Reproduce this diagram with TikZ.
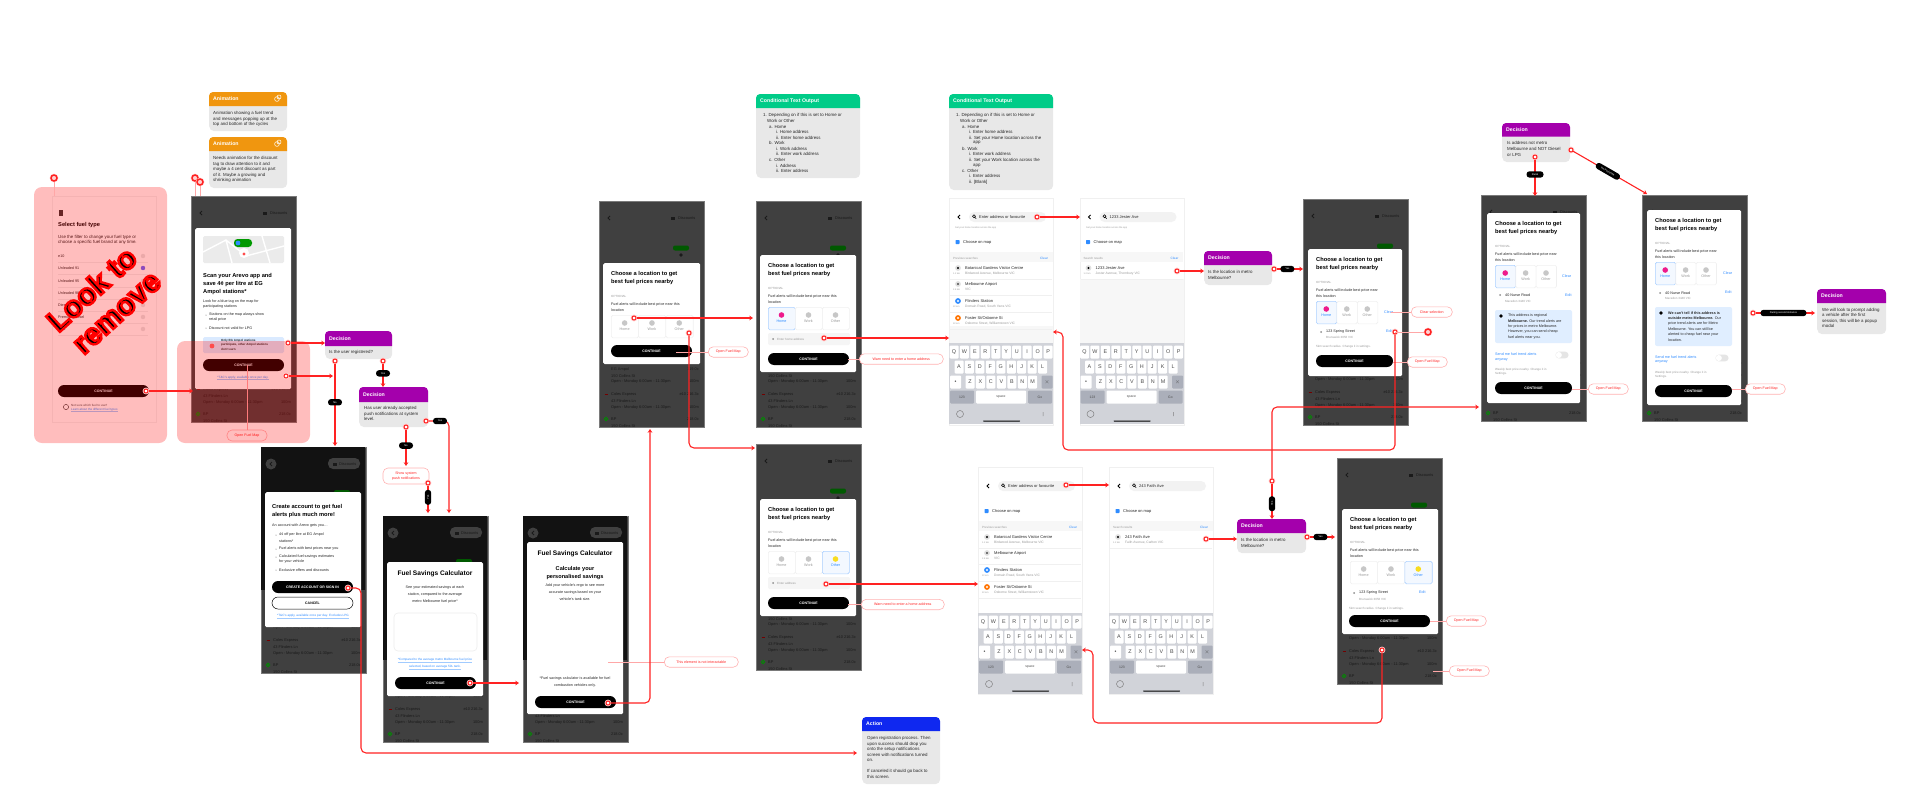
\documentclass[tikz,border=0pt]{standalone}
\usepackage{fontspec}
\setmainfont{Liberation Sans}
\newfontfamily\stampfont[UprightFont=* Bold,FakeBold=8]{Liberation Sans}
\usetikzlibrary{arrows.meta}
\newcommand{\thinul}[1]{\vtop{\hbox{#1}\kern.25pt{\color{tabblue!45}\hrule height .15pt}}}
\definecolor{linkred}{HTML}{FF2222}
\definecolor{notegrey}{HTML}{E8E8E8}
\definecolor{animorange}{HTML}{F0960F}
\definecolor{decpurple}{HTML}{A400AC}
\definecolor{condgreen}{HTML}{00CC88}
\definecolor{actblue}{HTML}{0F28F0}
\definecolor{phonegrey}{HTML}{404040}
\definecolor{bgink}{HTML}{1A1A1A}
\definecolor{tabblue}{HTML}{2F8CFF}
\definecolor{selpink}{HTML}{EE1A8C}
\definecolor{selyellow}{HTML}{F8DC20}
\definecolor{kbgrey}{HTML}{D1D3D9}
\definecolor{keygrey}{HTML}{ABAFBA}
\tikzset{
	txt/.style={inner sep=0pt,anchor=west,align=left,text=black!85,font=\fontsize{3.7}{5.6}\selectfont},
	ctxt/.style={txt,anchor=center,align=center},
	notetxt/.style={txt,font=\fontsize{4.4}{5.6}\selectfont},
	greytxt/.style={txt,text=black!40,font=\fontsize{3}{4}\selectfont},
	bluetxt/.style={txt,text=tabblue,font=\fontsize{3.7}{5}\selectfont},
	linktxt/.style={ctxt,text=tabblue,font=\fontsize{3.1}{5}\selectfont},
	tagtxt/.style={txt,font=\fontsize{3}{4}\bfseries\selectfont},
	bgtxt/.style={txt,text=bgink,font=\fontsize{3.9}{5}\selectfont},
	titletxt/.style={txt,text=black,font=\fontsize{5.7}{8}\bfseries\selectfont},
	bigtitle/.style={ctxt,text=black,font=\fontsize{6.6}{8}\bfseries\selectfont},
	subtitle/.style={ctxt,text=black,font=\fontsize{5.6}{8}\bfseries\selectfont},
	phonebg/.style={draw=black!52,fill=phonegrey,line width=.5pt,inner sep=0pt,minimum width=104.5pt,minimum height=226pt,anchor=north west},
	modal/.style={fill=white,rounded corners=1.5pt,inner sep=0pt,anchor=north west},
	card/.style={draw=black!6,fill=white,line width=.6pt,inner sep=0pt,minimum width=104pt,minimum height=227pt,anchor=north west},
	contbtn/.style={fill=black,text=white,rounded corners=6pt,inner sep=0pt,minimum height=12pt,font=\fontsize{3.5}{4}\bfseries\selectfont},
	keycap/.style={fill=white,rounded corners=1pt,inner sep=0pt,minimum width=9pt,minimum height=13pt,text=black!70,font=\fontsize{5.4}{6}\selectfont},
	notecard/.style={fill=notegrey,rounded corners=5pt,inner sep=0pt,anchor=north west},
	notehead/.style={inner sep=0pt,anchor=west,text=white,font=\fontsize{5.2}{6}\bfseries\selectfont},
	link/.style={draw=linkred,line width=1.1pt,rounded corners=5pt,-{Stealth[length=3.8pt,width=4.8pt]}},
	ring/.style={circle,draw=linkred,fill=white,line width=1pt,minimum size=4pt,inner sep=0pt,preaction={draw=linkred!22,line width=2.6pt}},
	bigring/.style={ring,line width=1.5pt,minimum size=6pt,fill=linkred!20},
	pill/.style={fill=black,text=white,rounded corners=3pt,inner sep=0pt,minimum height=6.4pt,minimum width=14pt,font=\fontsize{2.6}{3}\selectfont},
	callnote/.style={draw=linkred!35,fill=white,text=linkred,rounded corners=5pt,line width=.6pt,inner sep=0pt,minimum height=10.4pt,font=\fontsize{3.6}{5.4}\selectfont,align=center},
	callline/.style={draw=linkred!40,line width=.5pt},
	stamp/.style={inner sep=0pt,font=\stampfont\fontsize{30}{32}\selectfont},
	pics/phone/.style={code={%
		\node[phonebg] (screen) at (0,0) {};
		\begin{scope}
		\clip (0,0) rectangle (104.5,226);
		\draw[bgink,line width=.8pt] (11,15) -- (9,17) -- (11,19);
		\fill[bgink] (72,15.5) rectangle (76,18.5);
		\node[bgtxt] (chip) at (79,17) {Discounts};
		\fill[green!35!black,rounded corners=2pt] (74,44.5) rectangle (90,49.5);
		\fill[bgink] (82,54) circle (1.8);
		\foreach \y/\t [count=\i] in {168/EG Ampol,175/150 Collins St,180/Open - Monday 6:00am - 11:30pm,193/Coles Express,200/43 Flinders Ln,206/Open - Monday 6:00am - 11:30pm,218/BP,225/150 Collins St}
		\node[bgtxt] (row\i) at (12,\y) {\t};
		\foreach \y/\t [count=\i] in {168/119.0c,193/e10 216.3c,218/218.0c}
		\node[bgtxt,anchor=east] (price\i) at (100,\y) {\t};
		\foreach \y in {180,206} \node[bgtxt,anchor=east] (far\y) at (100,\y) {100m};
		\draw[red!45!black,line width=.7pt] (5.5,193) -- (8.5,193);
		\draw[green!55!black,line width=.8pt] (7,218) circle (1.7);
		\end{scope}
	}},
	pics/darktop/.style={code={%
		\fill[black!93] (.25,.25) rectangle (104.25,#1);
		\fill[black!75] (10,17) circle (5.5);
		\fill[black!75,rounded corners=5pt] (67,11) rectangle (99,22);
		\draw[bgink,line width=.8pt] (11,15) -- (9,17) -- (11,19);
		\fill[bgink] (72,15.5) rectangle (76,18.5);
		\node[bgtxt] (chip) at (78,17) {Discounts};
		\fill[green!35!black,rounded corners=2pt] (73,43) rectangle (89,48);
	}},
	pics/lochead/.style n args={4}{code={%
		\node[titletxt] (title) at (8,15) {Choose a location to get\\best fuel prices nearby};
		\node[greytxt] (opt) at (8,33) {OPTIONAL};
		\node[txt] (hint) at (8,44) {#4};
		\foreach \i/\lab in {0/Home,1/Work,2/Other}{
			\ifnum\i=#2 \def\tabfill{tabblue!6}\def\tabline{tabblue!40}\def\tabdot{#3}\def\tablab{tabblue}%
			\else \def\tabfill{white}\def\tabline{black!6}\def\tabdot{black!22}\def\tablab{black!40}\fi
			\node[fill=\tabfill,draw=\tabline,line width=.6pt,rounded corners=1.5pt,inner sep=0pt,anchor=north west,minimum width=#1pt,minimum height=22.5pt] (tab\i) at ({8+#1*\i},52) {};
			\fill[fill=\tabdot] ({8+#1*(\i+.5)},60) circle (2.8);
			\node[ctxt,text=\tablab] (lab\i) at ({8+#1*(\i+.5)},66.5) {\lab};
		}
	}},
	pics/searchtop/.style n args={2}{code={%
		\node[card] (screen) at (0,0) {};
		\draw[black,line width=.8pt] (11,17) -- (9,19) -- (11,21);
		\fill[black!5,rounded corners=5pt] (20,14) rectangle (97,24);
		\draw[black,line width=.6pt] (25,18.3) circle (1.5) (26,19.5) -- (27.2,20.7);
		\node[txt,font=\fontsize{4}{5}\selectfont] (field) at (30,19) {#1};
		\fill[tabblue,rounded corners=.6pt] (6.5,42) rectangle (10.5,46);
		\node[txt,font=\fontsize{4}{5}\selectfont] (choose) at (14,44) {Choose on map};
		\fill[black!3] (.5,54) rectangle (103.5,64);
		\node[greytxt] (band) at (4,60) {#2};
		\node[bluetxt,font=\fontsize{3.2}{4}\selectfont] (clr) at (91,60) {Clear};
	}},
	pics/resultrow/.style n args={5}{code={%
		\fill[fill=#1] (9,0) circle (2.9);
		\fill[fill=#2] (9,0) circle (1.2);
		\node[txt,font=\fontsize{4}{5}\selectfont] (rowname) at (16,0) {#3};
		\node[greytxt,font=\fontsize{3.3}{4}\selectfont] (rowsub) at (16,5.5) {#4};
		\node[greytxt,font=\fontsize{2.3}{3}\selectfont] (rowfar) at (4,6) {#5};
		\draw[black!6,line width=.4pt] (1,11) -- (103,11);
	}},
	pics/keybd/.style={code={%
		\fill[kbgrey] (.25,0) rectangle (104,81);
		\foreach \k [count=\i from 0] in {Q,W,E,R,T,Y,U,I,O,P} \node[keycap] (one\i) at ({5+10.45*\i},9) {\k};
		\foreach \k [count=\i from 0] in {A,S,D,F,G,H,J,K,L} \node[keycap] (two\i) at ({10+10.45*\i},24) {\k};
		\foreach \k [count=\i from 0] in {Z,X,C,V,B,N,M} \node[keycap] (thr\i) at ({21+10.45*\i},39) {\k};
		\node[keycap,minimum width=11pt] (shift) at (6.5,39) {\textbullet};
		\node[keycap,fill=keygrey,minimum width=11pt] (back) at (98,39) {\fontsize{3.5}{4}\selectfont$\times$};
		\node[keycap,fill=keygrey,minimum width=24pt,font=\fontsize{3.4}{4}\selectfont] (num) at (13,54) {123};
		\node[keycap,minimum width=50pt,font=\fontsize{3.4}{4}\selectfont] (space) at (52,54) {space};
		\node[keycap,fill=keygrey,minimum width=24pt,font=\fontsize{3.4}{4}\selectfont] (go) at (91,54) {Go};
		\draw[black!50,line width=.5pt] (11,71) circle (3.5) (94,69) -- (94,73);
		\fill[black,rounded corners=.5pt] (34,77.5) rectangle (71,78.5);
	}}
}
\begin{document}
\begin{tikzpicture}[x=1pt,y=-1pt]
	\useasboundingbox (0,0) rectangle (1920,811);

	% fuel type card
	\node[card,draw=black!5,minimum height=226pt] (fuelcard) at (52,196) {};
	\fill[black!80] (59,210) rectangle (63,216);
	\node[titletxt] (fueltitle) at (58,225) {Select fuel type};
	\foreach \x/\y/\t [count=\i] in {58/237/Use the filter to change your fuel type or,58/242/choose a specific fuel brand at any time.}
	\node[notetxt] (fueltxt\i) at (\x,\y) {\t};
	\foreach \y/\t [count=\i] in {256/e10,268/Unleaded 91,281/Unleaded 95,293/Unleaded 98,305/Diesel,317/Premium Diesel,329/LPG}{
		\node[txt] (fuelopt\i) at (58,\y) {\t};
		\fill[black!10] (143,\y) circle (2.2);
		\draw[black!6,line width=.4pt] (58,\y+6) -- (148,\y+6);
	}
	\fill[blue!60] (143,268) circle (2.2);
	\draw[black!70,line width=.5pt] (66,407) circle (2.6);
	\node[greytxt,text=black!70] (fuelhelp) at (71,405) {Not sure which fuel to use?};
	\node[greytxt,text=tabblue] (fuellink) at (71,409.5) {\thinul{Learn about the different fuel types}};

	% phones behind the modals
	\foreach \n/\x/\y in {s1/191/196,reg/261/447,calc/383/516,save/523/516,loc/599/201,home/756/201,other/756/444,spring/1303/199,otherb/1337/458,rural/1481/195,post/1642/195}
	\pic (\n-) at (\x,\y) {phone};
	\pic (regtop-) at (261,447) {darktop=143};
	\pic (calctop-) at (383,516) {darktop=144};
	\pic (savetop-) at (523,516) {darktop=144};

	% modals
	\foreach \n/\x/\y/\w/\h in {m1/603/263/97/101,m2/760/255/96/117,m3/760/499/96/117,m4/1308/249/94/127,m5/1342/509/96/125,m6/1487/213/93/190,m7/1647/210/94/195,promo/195/228/96/161,create/265/492/96/135,calcm/387/562/96/134,savem/527/542/96/172}
	\node[modal,minimum width=\w pt,minimum height=\h pt] (\n) at (\x,\y) {};
	\pic (h1-) at (603,263) {lochead={27.3}{-1}{white}{Fuel alerts will include best price near this\\location}};
	\pic (h2-) at (760,255) {lochead={27}{0}{selpink}{Fuel alerts will include best price near this\\location}};
	\pic (h3-) at (760,499) {lochead={27}{2}{selyellow}{Fuel alerts will include best price near this\\location}};
	\pic (h4-) at (1308,249) {lochead={20.5}{0}{selpink}{Fuel alerts will include best price near\\this location}};
	\pic (h5-) at (1342,509) {lochead={27.3}{2}{selyellow}{Fuel alerts will include best price near this\\location}};
	\pic (h6-) at (1487,213) {lochead={20.4}{0}{selpink}{Fuel alerts will include best price near\\this location}};
	\pic (h7-) at (1647,210) {lochead={20.4}{0}{selpink}{Fuel alerts will include best price near\\this location}};

	% buttons
	\foreach \n/\x/\y/\w in {cfuel/103.5/391/91,cpromo/243.5/365/81,ccalc/435.5/683/81,csave/575.5/702/81,cm1/651.5/351/81,cm2/808.5/359/81,cm3/808.5/603/81,cm4/1354.5/361/77,cm5/1389.5/621/81,cm6/1533.5/388/77,cm7/1693.5/391/77}
	\node[contbtn,minimum width=\w pt] (\n) at (\x,\y) {CONTINUE};
	\node[contbtn,minimum width=81pt] (cjoin) at (312.5,587) {CREATE ACCOUNT OR SIGN IN};
	\node[contbtn,minimum width=81pt,fill=white,text=black,draw=black,line width=.5pt] (ccancel) at (312.5,603) {CANCEL};

	% address fields, notices, toggles
	\foreach \n/\y in {fa/333,fb/577}
	\fill[black!4,rounded corners=2pt] (768,\y) rectangle (850,\y+12);
	\foreach \x/\y/\h in {1495/310/33,1655/307/39}
	\fill[tabblue!15,rounded corners=2pt] (\x,\y) rectangle (\x+77,\y+\h);
	\foreach \x/\y in {1501/316,1661/313}
	\fill[black] (\x,\y) circle (1.8);
	\foreach \x/\y in {1562/355,1722/358}{
		\fill[black!10,rounded corners=3.2pt] (\x-6.5,\y-3.3) rectangle (\x+6.5,\y+3.3);
		\fill[white] (\x-3.2,\y) circle (3);
	}
	\foreach \x/\y in {773/339,773/583,1321/332,1354/593,1500/295,1660/293}
	\fill[black!45] (\x,\y) circle (1);
	\foreach \x/\y in {206/315,206/328,276/535,276/549,276/557,276/570}
	\fill[black!60] (\x,\y) circle (.5);

	% promo map
	\fill[black!8,rounded corners=1.5pt] (203,236) rectangle (284,263);
	\draw[white,line width=1.4pt] (203,252) -- (226,240) -- (246,256) -- (284,246) (226,240) -- (232,263) (262,236) -- (270,263);
	\fill[green!60!black,rounded corners=3.5pt] (234,239) rectangle (252,247);
	\fill[tabblue] (238,243) circle (2.4);
	\fill[white] (244,253) circle (5);
	\fill[red!70] (244,254) circle (1.6);
	\fill[tabblue!18,rounded corners=1.5pt] (203,337) rectangle (284,353);
	\fill[red!60] (212,346) circle (2.4);

	% calculator box
	\draw[black!7,fill=white,rounded corners=4pt,line width=.6pt] (394,613) rectangle (477,651);

	% titles
	\foreach \x/\y/\t [count=\i] in {203/276/Scan your Arevo app and,203/284/save 4¢ per litre at EG,203/292/Ampol stations*,272/507/Create account to get fuel,272/515/alerts plus much more!}
	\node[titletxt] (head\i) at (\x,\y) {\t};
	\foreach \x/\y/\t [count=\i] in {435/574/Fuel Savings Calculator,575/554/Fuel Savings Calculator}
	\node[bigtitle] (big\i) at (\x,\y) {\t};
	\foreach \x/\y/\t [count=\i] in {575/569/Calculate your,575/577/personalised savings}
	\node[subtitle] (sub\i) at (\x,\y) {\t};

	% body lines
	\foreach \x/\y/\t [count=\i] in {203/302/Look for a blue tag on the map for,203/307/participating stations,209/315/Stations on the map always show,209/320/retail price,209/328/Discount not valid for LPG,272/526/An account with Arevo gets you\ldots,279/535/4¢ off per litre at EG Ampol,279/541/stations*,279/549/Fuel alerts with best prices near you,279/557/Calculated fuel savings estimates,279/562/for your vehicle,279/570/Exclusive offers and discounts,1326/332/123 Spring Street,1359/593/123 Spring Street,1505/295/40 Nurse Road,1665/293/40 Nurse Road,1508/316/This address is regional,1508/321/{\bfseries Melbourne.} Our trend alerts are,1508/327/for prices in metro Melbourne.,1508/332/{However, you can send cheap},1508/338/fuel alerts near you.,1668/313/{\bfseries We can't tell if this address is},1668/318/{\bfseries outside metro Melbourne.} Our,1668/324/price trend alerts are for Metro,1668/329/Melbourne. You can still be,1668/335/alerted to cheap fuel near your,1668/340/location.}
	\node[txt] (body\i) at (\x,\y) {\t};
	\foreach \x/\y/\t [count=\i] in {221/341/Only EG Ampol stations,221/345/{participate, other Ampol stations},221/349/don't earn}
	\node[tagtxt] (tag\i) at (\x,\y) {\t};
	\foreach \x/\y/\t [count=\i] in {435/588/See your estimated savings at each,435/595/{station, compared to the average},435/602/metro Melbourne fuel price*,575/586/Add your vehicle's rego to see more,575/593/accurate savings based on your,575/599/vehicle's tank size.,575/679/*Fuel savings calculator is available for fuel,575/686/combustion vehicles only.}
	\node[ctxt] (mid\i) at (\x,\y) {\t};
	\foreach \x/\y/\t [count=\i] in {243/378/{\thinul{*T\&C's apply, available once per day.}},313/616/{\thinul{*T\&C's apply, available once per day. Excludes LPG}},435/660/{\thinul{*Compared to the average metro Melbourne fuel price}},435/667/{\thinul{selected, based on average 50L tank.}}}
	\node[linktxt] (link\i) at (\x,\y) {\t};
	\foreach \x/\y/\t [count=\i] in {1326/337/Brunswick 3056 VIC,1359/599/Brunswick 3056 VIC,1505/301/Macedon 3440 VIC,1665/298/Macedon 3440 VIC,1316/347/5km search radius. Change it in settings.,1349/609/5km search radius. Change it in settings.,1495/370/Weekly best price nearby. Change it in,1495/373.7/Settings.,1655/373/Weekly best price nearby. Change it in,1655/376.7/Settings.,777/339/Enter home address,777/583/Enter address}
	\node[greytxt] (grey\i) at (\x,\y) {\t};
	\foreach \x/\y/\t [count=\i] in {1384/312/Clear,1562/276/Clear,1723/273/Clear,1386/331/Edit,1419/592/Edit,1565/295/Edit,1725/292/Edit,1495/354/Send me fuel trend alerts,1495/360/anyway,1655/357/Send me fuel trend alerts,1655/362/anyway}
	\node[bluetxt] (blue\i) at (\x,\y) {\t};

	% search screens
	\pic (sa-) at (949,198) {searchtop={Enter address or favourite}{Previous searches}};
	\pic (sb-) at (1079.5,198) {searchtop={1233 Jester Ave}{Search results}};
	\pic (sc-) at (978,467) {searchtop={Enter address or favourite}{Previous searches}};
	\pic (sd-) at (1109,467) {searchtop={243 Faith Ave}{Search results}};
	\fill[black!3] (949.5,326) rectangle (1053,343);
	\fill[black!3] (1080,279) rectangle (1183.5,343);
	\foreach \n/\x/\y/\t [count=\i] in {ta/955/228/Set your home location across the app,tb/1086/228/Set your home location across the app}
	\node[greytxt,font=\fontsize{2.4}{3}\selectfont] (\n) at (\x,\y) {\t};
	\foreach \n/\x/\y in {sa/949/198,sc/978/467}
	\foreach \dy/\c/\e/\a/\b/\d [count=\i] in {70/black!12/black/Botanical Gardens Visitor Centre/{Birdwood Avenue, Melbourne VIC}/1.2 km,86/black!12/black!70/Melbourne Airport/VIC/2.8 km,103/tabblue/white/Flinders Station/{Domain Road, South Yarra VIC}/22 km,120/orange!90!red/white/{Foster St/Osborne St}/{Osborne Street, Williamstown VIC}/22 km}
	\pic (\n row\i-) at (\x,\y+\dy) {resultrow={\c}{\e}{\a}{\b}{\d}};
	\pic (sbrow-) at (1079.5,268) {resultrow={black!12}{black}{1233 Jester Ave}{Jester Avenue, Thornbury VIC}{1.2 km}};
	\pic (sdrow-) at (1109,537) {resultrow={black!12}{black}{243 Faith Ave}{Faith Avenue, Carlton VIC}{1.2 km}};
	\foreach \n/\x/\y in {ka/949/343,kb/1079.5/343,kc/978/613,kd/1109/613}
	\pic (\n-) at (\x,\y) {keybd};

	% note cards
	\foreach \n/\x/\y/\w/\h/\hd/\c/\t in {anim1/209/92/78/39/14/animorange/Animation,anim2/209/137/78/51/14/animorange/Animation,dec1/325/331/67/28/15/decpurple/Decision,dec2/359/387/69/40/15/decpurple/Decision,dec3/1204/251/68/34/14/decpurple/Decision,dec4/1237/519/69/34/14/decpurple/Decision,dec5/1502/123/68/39/13.5/decpurple/Decision,dec6/1817/289/69/45/14/decpurple/Decision,act/862/717/78/67/14/actblue/Action,cond1/756/94/104/84/14/condgreen/Conditional Text Output,cond2/949/94/104/96/14/condgreen/Conditional Text Output}{
		\node[notecard,minimum width=\w pt,minimum height=\h pt] (\n) at (\x,\y) {};
		\fill[fill=\c] (\x,\y+\hd) [rounded corners=4pt] -- (\x,\y) -- (\x+\w,\y) [sharp corners] -- (\x+\w,\y+\hd) -- cycle;
		\node[notehead] (\n t) at (\x+4,\y+\hd/2) {\t};
	}
	\foreach \x/\y in {277/99,277/144} \draw[white,line width=.5pt] (\x,\y) circle (2.4) (\x+2,\y-2) circle (2);
	\foreach \x/\y/\t [count=\i] in {213/113/Animation showing a fuel trend,213/119/and messages popping up at the,213/124/top and bottom of the cycles,213/158/Needs animation for the discount,213/164/tag to draw attention to it and,213/169/maybe a 4 cent discount as part,213/175/of it. Maybe a growing and,213/180/shrinking animation,329/352/Is the user registered?,364/408/Has user already accepted,364/414/push notifications at system,364/419/level.,1208/272/Is the location in metro,1208/278/Melbourne?,1241/540/Is the location in metro,1241/546/Melbourne?,1507/143/Is address not metro,1507/149/Melbourne and NOT Diesel,1507/155/or LPG,1822/310/We will look to prompt adding,1822/315/a vehicle after the first,1822/321/{session, this will be a popup},1822/326/modal,867/738/Open registration process. Then,867/744/upon success should drop you,867/749/onto the setup notifications,867/755/screen with notifications turned,867/760/on.,867/771/If canceled it should go back to,867/777/this screen.}
	\node[notetxt] (note\i) at (\x,\y) {\t};
	\foreach \x/\y/\t [count=\i] in {763/115/1. Depending on if this is set to Home or,767/121/Work or Other,769/127/a. Home,776/132/i. Home address,776/138/ii. Enter home address,769/143/b. Work,776/149/i. Work address,776/154/ii. Enter work address,769/160/c. Other,776/166/i. Address,776/171/ii. Enter address,956/115/1. Depending on if this is set to Home or,960/121/Work or Other,962/127/a. Home,969/132/i. Enter home address,969/138/ii. Set your Home location across the,973/143/app,962/149/b. Work,969/154/i. Enter work address,969/160/ii. Set your Work location across the,973/166/app,962/171/c. Other,969/176/i. Enter address,969/182/ii. [Blank]}
	\node[notetxt] (cond\i) at (\x,\y) {\t};

	% callouts
	\foreach \n/\x/\y/\w/\lx/\t in {oa/708/352/40/676/Open Fuel Map,ob/859/359/84/848/Warn need to enter a home address,oc/861/604.5/83/848/Warn need to enter a home address,od/664/662/74/608/This element is not interactable,oe/1411/312/41/1391/Clear selection,of/1407/362/40/1393/Open Fuel Map,og/1588/389/40/1572/Open Fuel Map,oh/1745/389/40/1732/Open Fuel Map,oi/1446/621/40/1430/Open Fuel Map,oj/1449/671/40/1433/Open Fuel Map}{
		\node[callnote,minimum width=\w pt,anchor=west] (\n) at (\x,\y) {\t};
		\coordinate (\n from) at (\lx,\y);
		\draw[callline] (\n from) -- (\n);
	}
	\node[callnote,minimum width=40pt,minimum height=11pt] (omap) at (247,435.5) {Open Fuel Map};
	\coordinate (omapfrom) at (247,365);
	\draw[callline] (omapfrom) -- (omap);
	\node[callnote,minimum width=46pt,minimum height=16pt] (pushnote) at (406,476) {Show system\\push notifications};

	% pink masks
	\fill[red,opacity=.26,rounded corners=8pt] (34,187) rectangle (167,443);
	\fill[red,opacity=.26,rounded corners=8pt] (177,341) rectangle (310,443);

	% start rings with straight arrows
	\foreach \n/\x/\y/\ex/\ey in {rfuel/146/391/193/391,rtag/288/343/325/343,rtc/286/376/333/376,rcalc/470/683/519/683,rtab/634/318/753/318,rhome/824/338/949/338,roth/826/584/978/584,rbar/1037/217/1080/217,rres/1177/271/1204/271,rbar2/1066/485/1109/485,rres2/1206/539/1237/539}{
		\node[ring] (\n) at (\x,\y) {};
		\coordinate (\n end) at (\ex,\ey);
		\draw[link] (\n) -- (\n end);
	}

	% arrows with a pill on them
	\foreach \n/\x/\y/\ex/\ey/\p/\r/\w/\t in {rno/335/361/335/446/.47/0/14/No,ryes/383/361/383/387/.42/0/14/Yes,rdn/406/427/406/466/.44/0/14/No,rnf/428/483/428/513/.43/90/15/Yes,rdec/1274/269/1303/269/.41/0/14/Yes,rdecb/1307/537/1335/537/.43/0/14/Yes,rtop/1535/157/1535/196/.41/0/17/Rural,rdiag/1571/150/1647/194/.47/-30/27/No Postcode,rsec/1753/313/1815/313/.47/0/46/During second instance}{
		\node[ring] (\n) at (\x,\y) {};
		\coordinate (\n end) at (\ex,\ey);
		\draw[link] (\n) -- node[pill,rotate=\r,minimum width=\w pt,pos=\p] (\n p) {\t} (\n end);
	}

	% bent arrows
	\foreach \n/\x/\y in {rjoin/348/588,rsave/608/703,rother/689/333,rpush/426/421,redit/1395/332,rcal/1382/650,rup/1272/481}
	\node[ring] (\n) at (\x,\y) {};
	\foreach \n/\x/\y in {ejoin/857/753,tjoin/361/753,esave/650/429,eother/755/448,epush/449/513,eedit/1053/332,tedit/1063/450,ecal/1082/650,tcal/1093/723,eup/1479/407,edown/1272/519}
	\coordinate (\n) at (\x,\y);
	\draw[link] (rjoin) -| (tjoin) -- (ejoin);
	\draw[link] (rsave) -| (esave);
	\draw[link] (rother) |- (eother);
	\draw[link] (rpush) -| node[pill,pos=.28] (ppush) {Yes} (epush);
	\draw[link] (redit) |- (tedit) |- (eedit);
	\draw[link] (rcal) |- (tcal) |- (ecal);
	\draw[link] (rup) |- (eup);
	\draw[link] (rup) -- node[pill,rotate=90,minimum width=15pt,pos=.57] (pup) {Yes} (edown);

	% markers above the screens
	\foreach \n/\x/\y/\ex/\ey in {b1/54/178/54/196,b2/195/178/195/196,b3/200/182/200/196,b4/1428/332/1395/332}{
		\node[bigring] (\n) at (\x,\y) {};
		\coordinate (\n end) at (\ex,\ey);
		\draw[callline,line width=.7pt] (\n) -- (\n end);
	}

	% stamp over first screens
	\node[stamp,rotate=42] (look) at (91.5,289) {\special{pdf:bcolor [0 0 0] [1 0 0]}Look to\special{pdf:ecolor}};
	\node[stamp,rotate=42] (remove) at (118,314) {\special{pdf:bcolor [0 0 0] [1 0 0]}remove\special{pdf:ecolor}};
\end{tikzpicture}
\end{document}
